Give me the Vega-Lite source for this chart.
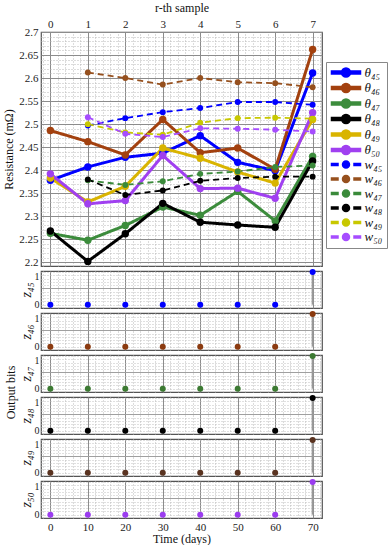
{
  "$schema": "https://vega.github.io/schema/vega-lite/v6.json",
  "padding": {"left": 2, "top": 0, "right": 0, "bottom": 0},
  "spacing": 5,
  "bounds": "flush",
  "config": {
    "font": "Liberation Serif",
    "view": {"stroke": "#555", "strokeWidth": 1.2},
    "axis": {"labelFont": "Liberation Serif", "titleFont": "Liberation Serif", "labelColor": "#222", "titleColor": "#111", "titleFontWeight": "normal", "labelFontSize": 11, "titleFontSize": 12, "domain": false, "ticks": false, "labelPadding": 3},
    "title": {"font": "Liberation Serif", "fontWeight": "normal", "fontSize": 12, "color": "#111"}
  },
  "datasets": {
    "res": [
      {"day": 0, "value": 2.378, "series": "θ₄₅", "type": "theta"},
      {"day": 10, "value": 2.407, "series": "θ₄₅", "type": "theta"},
      {"day": 20, "value": 2.428, "series": "θ₄₅", "type": "theta"},
      {"day": 30, "value": 2.437, "series": "θ₄₅", "type": "theta"},
      {"day": 40, "value": 2.475, "series": "θ₄₅", "type": "theta"},
      {"day": 50, "value": 2.417, "series": "θ₄₅", "type": "theta"},
      {"day": 60, "value": 2.399, "series": "θ₄₅", "type": "theta"},
      {"day": 70, "value": 2.611, "series": "θ₄₅", "type": "theta"},
      {"day": 0, "value": 2.486, "series": "θ₄₆", "type": "theta"},
      {"day": 10, "value": 2.462, "series": "θ₄₆", "type": "theta"},
      {"day": 20, "value": 2.433, "series": "θ₄₆", "type": "theta"},
      {"day": 30, "value": 2.51, "series": "θ₄₆", "type": "theta"},
      {"day": 40, "value": 2.438, "series": "θ₄₆", "type": "theta"},
      {"day": 50, "value": 2.448, "series": "θ₄₆", "type": "theta"},
      {"day": 60, "value": 2.402, "series": "θ₄₆", "type": "theta"},
      {"day": 70, "value": 2.662, "series": "θ₄₆", "type": "theta"},
      {"day": 0, "value": 2.263, "series": "θ₄₇", "type": "theta"},
      {"day": 10, "value": 2.248, "series": "θ₄₇", "type": "theta"},
      {"day": 20, "value": 2.28, "series": "θ₄₇", "type": "theta"},
      {"day": 30, "value": 2.32, "series": "θ₄₇", "type": "theta"},
      {"day": 40, "value": 2.302, "series": "θ₄₇", "type": "theta"},
      {"day": 50, "value": 2.354, "series": "θ₄₇", "type": "theta"},
      {"day": 60, "value": 2.29, "series": "θ₄₇", "type": "theta"},
      {"day": 70, "value": 2.43, "series": "θ₄₇", "type": "theta"},
      {"day": 0, "value": 2.268, "series": "θ₄₈", "type": "theta"},
      {"day": 10, "value": 2.202, "series": "θ₄₈", "type": "theta"},
      {"day": 20, "value": 2.262, "series": "θ₄₈", "type": "theta"},
      {"day": 30, "value": 2.328, "series": "θ₄₈", "type": "theta"},
      {"day": 40, "value": 2.287, "series": "θ₄₈", "type": "theta"},
      {"day": 50, "value": 2.281, "series": "θ₄₈", "type": "theta"},
      {"day": 60, "value": 2.276, "series": "θ₄₈", "type": "theta"},
      {"day": 70, "value": 2.42, "series": "θ₄₈", "type": "theta"},
      {"day": 0, "value": 2.383, "series": "θ₄₉", "type": "theta"},
      {"day": 10, "value": 2.331, "series": "θ₄₉", "type": "theta"},
      {"day": 20, "value": 2.365, "series": "θ₄₉", "type": "theta"},
      {"day": 30, "value": 2.448, "series": "θ₄₉", "type": "theta"},
      {"day": 40, "value": 2.426, "series": "θ₄₉", "type": "theta"},
      {"day": 50, "value": 2.396, "series": "θ₄₉", "type": "theta"},
      {"day": 60, "value": 2.372, "series": "θ₄₉", "type": "theta"},
      {"day": 70, "value": 2.51, "series": "θ₄₉", "type": "theta"},
      {"day": 0, "value": 2.392, "series": "θ₅₀", "type": "theta"},
      {"day": 10, "value": 2.327, "series": "θ₅₀", "type": "theta"},
      {"day": 20, "value": 2.334, "series": "θ₅₀", "type": "theta"},
      {"day": 30, "value": 2.432, "series": "θ₅₀", "type": "theta"},
      {"day": 40, "value": 2.36, "series": "θ₅₀", "type": "theta"},
      {"day": 50, "value": 2.361, "series": "θ₅₀", "type": "theta"},
      {"day": 60, "value": 2.339, "series": "θ₅₀", "type": "theta"},
      {"day": 70, "value": 2.525, "series": "θ₅₀", "type": "theta"},
      {"day": 10, "value": 2.497, "series": "w₄₅", "type": "w"},
      {"day": 20, "value": 2.513, "series": "w₄₅", "type": "w"},
      {"day": 30, "value": 2.526, "series": "w₄₅", "type": "w"},
      {"day": 40, "value": 2.535, "series": "w₄₅", "type": "w"},
      {"day": 50, "value": 2.548, "series": "w₄₅", "type": "w"},
      {"day": 60, "value": 2.548, "series": "w₄₅", "type": "w"},
      {"day": 70, "value": 2.542, "series": "w₄₅", "type": "w"},
      {"day": 10, "value": 2.612, "series": "w₄₆", "type": "w"},
      {"day": 20, "value": 2.6, "series": "w₄₆", "type": "w"},
      {"day": 30, "value": 2.586, "series": "w₄₆", "type": "w"},
      {"day": 40, "value": 2.6, "series": "w₄₆", "type": "w"},
      {"day": 50, "value": 2.591, "series": "w₄₆", "type": "w"},
      {"day": 60, "value": 2.589, "series": "w₄₆", "type": "w"},
      {"day": 70, "value": 2.58, "series": "w₄₆", "type": "w"},
      {"day": 10, "value": 2.378, "series": "w₄₇", "type": "w"},
      {"day": 20, "value": 2.368, "series": "w₄₇", "type": "w"},
      {"day": 30, "value": 2.376, "series": "w₄₇", "type": "w"},
      {"day": 40, "value": 2.392, "series": "w₄₇", "type": "w"},
      {"day": 50, "value": 2.397, "series": "w₄₇", "type": "w"},
      {"day": 60, "value": 2.407, "series": "w₄₇", "type": "w"},
      {"day": 70, "value": 2.41, "series": "w₄₇", "type": "w"},
      {"day": 10, "value": 2.38, "series": "w₄₈", "type": "w"},
      {"day": 20, "value": 2.346, "series": "w₄₈", "type": "w"},
      {"day": 30, "value": 2.356, "series": "w₄₈", "type": "w"},
      {"day": 40, "value": 2.377, "series": "w₄₈", "type": "w"},
      {"day": 50, "value": 2.383, "series": "w₄₈", "type": "w"},
      {"day": 60, "value": 2.386, "series": "w₄₈", "type": "w"},
      {"day": 70, "value": 2.386, "series": "w₄₈", "type": "w"},
      {"day": 10, "value": 2.5, "series": "w₄₉", "type": "w"},
      {"day": 20, "value": 2.482, "series": "w₄₉", "type": "w"},
      {"day": 30, "value": 2.477, "series": "w₄₉", "type": "w"},
      {"day": 40, "value": 2.503, "series": "w₄₉", "type": "w"},
      {"day": 50, "value": 2.513, "series": "w₄₉", "type": "w"},
      {"day": 60, "value": 2.514, "series": "w₄₉", "type": "w"},
      {"day": 70, "value": 2.512, "series": "w₄₉", "type": "w"},
      {"day": 10, "value": 2.515, "series": "w₅₀", "type": "w"},
      {"day": 20, "value": 2.479, "series": "w₅₀", "type": "w"},
      {"day": 30, "value": 2.472, "series": "w₅₀", "type": "w"},
      {"day": 40, "value": 2.491, "series": "w₅₀", "type": "w"},
      {"day": 50, "value": 2.49, "series": "w₅₀", "type": "w"},
      {"day": 60, "value": 2.488, "series": "w₅₀", "type": "w"},
      {"day": 70, "value": 2.484, "series": "w₅₀", "type": "w"}
    ],
    "bits": [
      {"z": "z45", "day": 0, "bit": 0}, {"z": "z45", "day": 10, "bit": 0}, {"z": "z45", "day": 20, "bit": 0}, {"z": "z45", "day": 30, "bit": 0},
      {"z": "z45", "day": 40, "bit": 0}, {"z": "z45", "day": 50, "bit": 0}, {"z": "z45", "day": 60, "bit": 0}, {"z": "z45", "day": 70, "bit": 1},
      {"z": "z46", "day": 0, "bit": 0}, {"z": "z46", "day": 10, "bit": 0}, {"z": "z46", "day": 20, "bit": 0}, {"z": "z46", "day": 30, "bit": 0},
      {"z": "z46", "day": 40, "bit": 0}, {"z": "z46", "day": 50, "bit": 0}, {"z": "z46", "day": 60, "bit": 0}, {"z": "z46", "day": 70, "bit": 1},
      {"z": "z47", "day": 0, "bit": 0}, {"z": "z47", "day": 10, "bit": 0}, {"z": "z47", "day": 20, "bit": 0}, {"z": "z47", "day": 30, "bit": 0},
      {"z": "z47", "day": 40, "bit": 0}, {"z": "z47", "day": 50, "bit": 0}, {"z": "z47", "day": 60, "bit": 0}, {"z": "z47", "day": 70, "bit": 1},
      {"z": "z48", "day": 0, "bit": 0}, {"z": "z48", "day": 10, "bit": 0}, {"z": "z48", "day": 20, "bit": 0}, {"z": "z48", "day": 30, "bit": 0},
      {"z": "z48", "day": 40, "bit": 0}, {"z": "z48", "day": 50, "bit": 0}, {"z": "z48", "day": 60, "bit": 0}, {"z": "z48", "day": 70, "bit": 1},
      {"z": "z49", "day": 0, "bit": 0}, {"z": "z49", "day": 10, "bit": 0}, {"z": "z49", "day": 20, "bit": 0}, {"z": "z49", "day": 30, "bit": 0},
      {"z": "z49", "day": 40, "bit": 0}, {"z": "z49", "day": 50, "bit": 0}, {"z": "z49", "day": 60, "bit": 0}, {"z": "z49", "day": 70, "bit": 1},
      {"z": "z50", "day": 0, "bit": 0}, {"z": "z50", "day": 10, "bit": 0}, {"z": "z50", "day": 20, "bit": 0}, {"z": "z50", "day": 30, "bit": 0},
      {"z": "z50", "day": 40, "bit": 0}, {"z": "z50", "day": 50, "bit": 0}, {"z": "z50", "day": 60, "bit": 0}, {"z": "z50", "day": 70, "bit": 1}
    ]
  },
  "vconcat": [
    {
      "width": 281, "height": 234,
      "data": {"name": "res"},
      "encoding": {
        "x": {"field": "day", "type": "quantitative", "scale": {"domain": [-2.5, 72.5], "nice": false, "zero": false},
          "axis": {"orient": "top", "values": [-2,0,2,4,6,8,10,12,14,16,18,20,22,24,26,28,30,32,34,36,38,40,42,44,46,48,50,52,54,56,58,60,62,64,66,68,70,72],
            "labelExpr": "datum.value % 10 === 0 ? format(datum.value/10,'d') : ''", "title": "r-th sample", "titlePadding": 4, "labelPadding": 3,
            "grid": true, "gridWidth": 1,
            "gridDash": {"condition": {"test": "datum.value % 10 === 0", "value": []}, "value": [1, 2]},
            "gridColor": {"condition": {"test": "datum.value % 10 === 0", "value": "#8c8c8c"}, "value": "#b8b8b8"}}},
        "y": {"field": "value", "type": "quantitative", "scale": {"domain": [2.192, 2.7], "nice": false, "zero": false},
          "axis": {"values": [2.2,2.21,2.22,2.23,2.24,2.25,2.26,2.27,2.28,2.29,2.3,2.31,2.32,2.33,2.34,2.35,2.36,2.37,2.38,2.39,2.4,2.41,2.42,2.43,2.44,2.45,2.46,2.47,2.48,2.49,2.5,2.51,2.52,2.53,2.54,2.55,2.56,2.57,2.58,2.59,2.6,2.61,2.62,2.63,2.64,2.65,2.66,2.67,2.68,2.69,2.7],
            "labelExpr": "abs(round(datum.value*100)) % 5 === 0 ? format(datum.value, '.2~f') : ''", "title": "Resistance  (mΩ)", "titlePadding": 3, "labelPadding": 3,
            "grid": true, "gridWidth": 1,
            "gridDash": {"condition": {"test": "abs(round(datum.value*100)) % 5 === 0", "value": []}, "value": [1, 2]},
            "gridColor": {"condition": {"test": "abs(round(datum.value*100)) % 5 === 0", "value": "#8c8c8c"}, "value": "#b8b8b8"}}},
        "color": {"field": "series", "type": "nominal",
          "scale": {"domain": ["θ₄₅","θ₄₆","θ₄₇","θ₄₈","θ₄₉","θ₅₀","w₄₅","w₄₆","w₄₇","w₄₈","w₄₉","w₅₀"],
                    "range": ["#0000ff","#a3410f","#3c8c3c","#000000","#d9b400","#a040f0","#0000ff","#96501e","#3a8a3a","#000000","#c8c800","#a64dff"]},
          "legend": {"orient": "none", "legendX": 285, "legendY": 30, "title": null, "labelFontSize": 13, "labelFontStyle": "italic", "labelFont": "Liberation Serif", "labelColor": "#111",
            "symbolSize": 100, "symbolOffset": 9.5, "labelOffset": 12, "rowPadding": 0.5, "padding": 4, "strokeColor": "#888",
            "encode": {"symbols": {"update": {
              "shape": {"signal": "slice(datum.value,0,1) === 'θ' ? 'M-2.9,-0.3H2.9V0.3H-2.9Z M-0.9,0A0.9,0.9,0,1,1,0.9,0A0.9,0.9,0,1,1,-0.9,0Z' : 'M-2.9,-0.2H-1.6V0.2H-2.9Z M1.6,-0.2H2.9V0.2H1.6Z M-0.7,0A0.7,0.7,0,1,1,0.7,0A0.7,0.7,0,1,1,-0.7,0Z'"},
              "fill": {"scale": "color", "field": "value"},
              "stroke": {"value": "transparent"},
              "opacity": {"value": 1}}}}}}
      },
      "layer": [
        {"mark": {"type": "line"},
         "encoding": {
           "strokeDash": {"field": "type", "type": "nominal", "scale": {"domain": ["theta", "w"], "range": [[1, 0], [6, 4]]}, "legend": null},
           "strokeWidth": {"field": "type", "type": "nominal", "scale": {"domain": ["theta", "w"], "range": [3, 1.8]}, "legend": null}}},
        {"mark": {"type": "point", "filled": true, "opacity": 1},
         "encoding": {
           "size": {"field": "type", "type": "nominal", "scale": {"domain": ["theta", "w"], "range": [55, 35]}, "legend": null}}}
      ]
    },
    {
      "width": 281, "height": 37, "data": {"name": "bits"}, "transform": [{"filter": "datum.z === 'z45'"}],
      "encoding": {
        "x": {"field": "day", "type": "quantitative", "scale": {"domain": [-2.5, 72.5], "nice": false, "zero": false},
          "axis": {"values": [-2,0,2,4,6,8,10,12,14,16,18,20,22,24,26,28,30,32,34,36,38,40,42,44,46,48,50,52,54,56,58,60,62,64,66,68,70,72], "labels": false, "title": null, "grid": true,
            "gridDash": {"condition": {"test": "datum.value % 10 === 0", "value": []}, "value": [1, 2]},
            "gridColor": {"condition": {"test": "datum.value % 10 === 0", "value": "#8c8c8c"}, "value": "#b8b8b8"}}},
        "y": {"field": "bit", "type": "quantitative", "scale": {"domain": [-0.1, 1.03], "nice": false, "zero": false},
          "axis": {"values": [0,0.1,0.2,0.3,0.4,0.5,0.6,0.7,0.8,0.9,1], "labelExpr": "datum.value === 0 || datum.value === 1 ? format(datum.value,'d') : ''", "labelPadding": 2, "labelFontSize": 10,
            "labelBaseline": {"condition": {"test": "datum.value === 1", "value": "top"}, "value": "middle"},
            "title": "z₄₅", "titleFontStyle": "italic", "titleFontSize": 14, "titlePadding": 1, "grid": true,
            "gridDash": {"condition": {"test": "datum.value === 0.5", "value": []}, "value": [1, 2]},
            "gridColor": {"condition": {"test": "datum.value === 0.5", "value": "#a0a0a0"}, "value": "#c0c0c0"}}}
      },
      "layer": [
        {"mark": {"type": "rule", "color": "#999", "strokeWidth": 2}, "encoding": {"y2": {"datum": 0}}},
        {"mark": {"type": "point", "filled": true, "opacity": 1, "size": 36, "color": "#0000ff"}}
      ]
    },
    {
      "width": 281, "height": 37, "data": {"name": "bits"}, "transform": [{"filter": "datum.z === 'z46'"}],
      "encoding": {
        "x": {"field": "day", "type": "quantitative", "scale": {"domain": [-2.5, 72.5], "nice": false, "zero": false},
          "axis": {"values": [-2,0,2,4,6,8,10,12,14,16,18,20,22,24,26,28,30,32,34,36,38,40,42,44,46,48,50,52,54,56,58,60,62,64,66,68,70,72], "labels": false, "title": null, "grid": true,
            "gridDash": {"condition": {"test": "datum.value % 10 === 0", "value": []}, "value": [1, 2]},
            "gridColor": {"condition": {"test": "datum.value % 10 === 0", "value": "#8c8c8c"}, "value": "#b8b8b8"}}},
        "y": {"field": "bit", "type": "quantitative", "scale": {"domain": [-0.1, 1.03], "nice": false, "zero": false},
          "axis": {"values": [0,0.1,0.2,0.3,0.4,0.5,0.6,0.7,0.8,0.9,1], "labelExpr": "datum.value === 0 || datum.value === 1 ? format(datum.value,'d') : ''", "labelPadding": 2, "labelFontSize": 10,
            "labelBaseline": {"condition": {"test": "datum.value === 1", "value": "top"}, "value": "middle"},
            "title": "z₄₆", "titleFontStyle": "italic", "titleFontSize": 14, "titlePadding": 1, "grid": true,
            "gridDash": {"condition": {"test": "datum.value === 0.5", "value": []}, "value": [1, 2]},
            "gridColor": {"condition": {"test": "datum.value === 0.5", "value": "#a0a0a0"}, "value": "#c0c0c0"}}}
      },
      "layer": [
        {"mark": {"type": "rule", "color": "#999", "strokeWidth": 2}, "encoding": {"y2": {"datum": 0}}},
        {"mark": {"type": "point", "filled": true, "opacity": 1, "size": 36, "color": "#8b3a0f"}}
      ]
    },
    {
      "width": 281, "height": 37, "data": {"name": "bits"}, "transform": [{"filter": "datum.z === 'z47'"}],
      "title": {"text": "Output bits", "orient": "left", "anchor": "middle", "offset": 1, "dx": -19},
      "encoding": {
        "x": {"field": "day", "type": "quantitative", "scale": {"domain": [-2.5, 72.5], "nice": false, "zero": false},
          "axis": {"values": [-2,0,2,4,6,8,10,12,14,16,18,20,22,24,26,28,30,32,34,36,38,40,42,44,46,48,50,52,54,56,58,60,62,64,66,68,70,72], "labels": false, "title": null, "grid": true,
            "gridDash": {"condition": {"test": "datum.value % 10 === 0", "value": []}, "value": [1, 2]},
            "gridColor": {"condition": {"test": "datum.value % 10 === 0", "value": "#8c8c8c"}, "value": "#b8b8b8"}}},
        "y": {"field": "bit", "type": "quantitative", "scale": {"domain": [-0.1, 1.03], "nice": false, "zero": false},
          "axis": {"values": [0,0.1,0.2,0.3,0.4,0.5,0.6,0.7,0.8,0.9,1], "labelExpr": "datum.value === 0 || datum.value === 1 ? format(datum.value,'d') : ''", "labelPadding": 2, "labelFontSize": 10,
            "labelBaseline": {"condition": {"test": "datum.value === 1", "value": "top"}, "value": "middle"},
            "title": "z₄₇", "titleFontStyle": "italic", "titleFontSize": 14, "titlePadding": 1, "grid": true,
            "gridDash": {"condition": {"test": "datum.value === 0.5", "value": []}, "value": [1, 2]},
            "gridColor": {"condition": {"test": "datum.value === 0.5", "value": "#a0a0a0"}, "value": "#c0c0c0"}}}
      },
      "layer": [
        {"mark": {"type": "rule", "color": "#999", "strokeWidth": 2}, "encoding": {"y2": {"datum": 0}}},
        {"mark": {"type": "point", "filled": true, "opacity": 1, "size": 36, "color": "#3c7a32"}}
      ]
    },
    {
      "width": 281, "height": 37, "data": {"name": "bits"}, "transform": [{"filter": "datum.z === 'z48'"}],
      "encoding": {
        "x": {"field": "day", "type": "quantitative", "scale": {"domain": [-2.5, 72.5], "nice": false, "zero": false},
          "axis": {"values": [-2,0,2,4,6,8,10,12,14,16,18,20,22,24,26,28,30,32,34,36,38,40,42,44,46,48,50,52,54,56,58,60,62,64,66,68,70,72], "labels": false, "title": null, "grid": true,
            "gridDash": {"condition": {"test": "datum.value % 10 === 0", "value": []}, "value": [1, 2]},
            "gridColor": {"condition": {"test": "datum.value % 10 === 0", "value": "#8c8c8c"}, "value": "#b8b8b8"}}},
        "y": {"field": "bit", "type": "quantitative", "scale": {"domain": [-0.1, 1.03], "nice": false, "zero": false},
          "axis": {"values": [0,0.1,0.2,0.3,0.4,0.5,0.6,0.7,0.8,0.9,1], "labelExpr": "datum.value === 0 || datum.value === 1 ? format(datum.value,'d') : ''", "labelPadding": 2, "labelFontSize": 10,
            "labelBaseline": {"condition": {"test": "datum.value === 1", "value": "top"}, "value": "middle"},
            "title": "z₄₈", "titleFontStyle": "italic", "titleFontSize": 14, "titlePadding": 1, "grid": true,
            "gridDash": {"condition": {"test": "datum.value === 0.5", "value": []}, "value": [1, 2]},
            "gridColor": {"condition": {"test": "datum.value === 0.5", "value": "#a0a0a0"}, "value": "#c0c0c0"}}}
      },
      "layer": [
        {"mark": {"type": "rule", "color": "#999", "strokeWidth": 2}, "encoding": {"y2": {"datum": 0}}},
        {"mark": {"type": "point", "filled": true, "opacity": 1, "size": 36, "color": "#000000"}}
      ]
    },
    {
      "width": 281, "height": 37, "data": {"name": "bits"}, "transform": [{"filter": "datum.z === 'z49'"}],
      "encoding": {
        "x": {"field": "day", "type": "quantitative", "scale": {"domain": [-2.5, 72.5], "nice": false, "zero": false},
          "axis": {"values": [-2,0,2,4,6,8,10,12,14,16,18,20,22,24,26,28,30,32,34,36,38,40,42,44,46,48,50,52,54,56,58,60,62,64,66,68,70,72], "labels": false, "title": null, "grid": true,
            "gridDash": {"condition": {"test": "datum.value % 10 === 0", "value": []}, "value": [1, 2]},
            "gridColor": {"condition": {"test": "datum.value % 10 === 0", "value": "#8c8c8c"}, "value": "#b8b8b8"}}},
        "y": {"field": "bit", "type": "quantitative", "scale": {"domain": [-0.1, 1.03], "nice": false, "zero": false},
          "axis": {"values": [0,0.1,0.2,0.3,0.4,0.5,0.6,0.7,0.8,0.9,1], "labelExpr": "datum.value === 0 || datum.value === 1 ? format(datum.value,'d') : ''", "labelPadding": 2, "labelFontSize": 10,
            "labelBaseline": {"condition": {"test": "datum.value === 1", "value": "top"}, "value": "middle"},
            "title": "z₄₉", "titleFontStyle": "italic", "titleFontSize": 14, "titlePadding": 1, "grid": true,
            "gridDash": {"condition": {"test": "datum.value === 0.5", "value": []}, "value": [1, 2]},
            "gridColor": {"condition": {"test": "datum.value === 0.5", "value": "#a0a0a0"}, "value": "#c0c0c0"}}}
      },
      "layer": [
        {"mark": {"type": "rule", "color": "#999", "strokeWidth": 2}, "encoding": {"y2": {"datum": 0}}},
        {"mark": {"type": "point", "filled": true, "opacity": 1, "size": 36, "color": "#5a3320"}}
      ]
    },
    {
      "width": 281, "height": 37, "data": {"name": "bits"}, "transform": [{"filter": "datum.z === 'z50'"}],
      "encoding": {
        "x": {"field": "day", "type": "quantitative", "scale": {"domain": [-2.5, 72.5], "nice": false, "zero": false},
          "axis": {"values": [-2,0,2,4,6,8,10,12,14,16,18,20,22,24,26,28,30,32,34,36,38,40,42,44,46,48,50,52,54,56,58,60,62,64,66,68,70,72],
            "labelExpr": "datum.value % 10 === 0 && datum.value >= 0 ? datum.label : ''", "title": "Time (days)", "titlePadding": 1, "labelPadding": 3, "grid": true,
            "gridDash": {"condition": {"test": "datum.value % 10 === 0", "value": []}, "value": [1, 2]},
            "gridColor": {"condition": {"test": "datum.value % 10 === 0", "value": "#8c8c8c"}, "value": "#b8b8b8"}}},
        "y": {"field": "bit", "type": "quantitative", "scale": {"domain": [-0.1, 1.03], "nice": false, "zero": false},
          "axis": {"values": [0,0.1,0.2,0.3,0.4,0.5,0.6,0.7,0.8,0.9,1], "labelExpr": "datum.value === 0 || datum.value === 1 ? format(datum.value,'d') : ''", "labelPadding": 2, "labelFontSize": 10,
            "labelBaseline": {"condition": {"test": "datum.value === 1", "value": "top"}, "value": "middle"},
            "title": "z₅₀", "titleFontStyle": "italic", "titleFontSize": 14, "titlePadding": 1, "grid": true,
            "gridDash": {"condition": {"test": "datum.value === 0.5", "value": []}, "value": [1, 2]},
            "gridColor": {"condition": {"test": "datum.value === 0.5", "value": "#a0a0a0"}, "value": "#c0c0c0"}}}
      },
      "layer": [
        {"mark": {"type": "rule", "color": "#999", "strokeWidth": 2}, "encoding": {"y2": {"datum": 0}}},
        {"mark": {"type": "point", "filled": true, "opacity": 1, "size": 36, "color": "#9b3cf0"}}
      ]
    }
  ]
}
